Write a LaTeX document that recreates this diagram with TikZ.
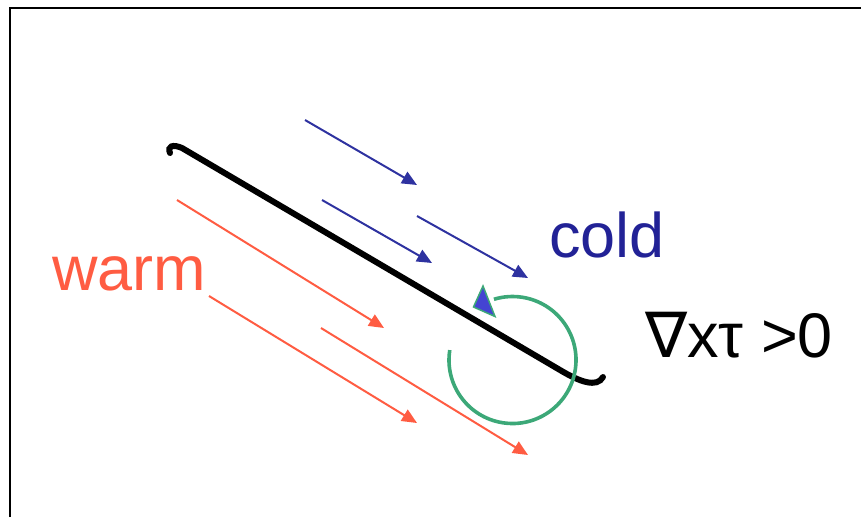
\documentclass[tikz,border=0pt]{standalone}
\usepackage{fontspec}
\setmainfont{Liberation Sans}
\newfontfamily\nablafont{DejaVu Sans}
\usetikzlibrary{arrows.meta}
\definecolor{coldblue}{RGB}{46,50,160}
\definecolor{coldtext}{RGB}{34,34,150}
\definecolor{warmred}{RGB}{255,92,66}
\definecolor{curlgreen}{RGB}{60,168,120}
\definecolor{headblue}{RGB}{68,68,210}
\tikzset{
  coldarrow/.style={draw=coldblue, line width=2pt, -{Triangle[length=15pt,width=13pt]}},
  warmarrow/.style={draw=warmred, line width=2pt, -{Triangle[length=15pt,width=13pt]}},
  frontline/.style={draw=black, line width=6pt, line cap=round},
  curl/.style={draw=curlgreen, line width=3.6pt},
  lbl/.style={anchor=base west, inner sep=0pt, font=\fontsize{63}{63}\selectfont}
}
\begin{document}
\begin{tikzpicture}[x=1pt,y=-1pt]
\useasboundingbox (0,0) rectangle (861,517);
\draw[line width=2pt] (10,517) -- (10,8) -- (861,8);
% cold arrows
\coordinate (c1s) at (305,120); \coordinate (c1e) at (417,185);
\coordinate (c2s) at (322,200); \coordinate (c2e) at (432,263);
\coordinate (c3s) at (417,216); \coordinate (c3e) at (528,278);
\draw[coldarrow] (c1s) -- (c1e);
\draw[coldarrow] (c2s) -- (c2e);
\draw[coldarrow] (c3s) -- (c3e);
% warm arrows
\coordinate (w1s) at (177,200); \coordinate (w1e) at (384,328);
\coordinate (w2s) at (209,296); \coordinate (w2e) at (417,423);
\coordinate (w3s) at (321,328); \coordinate (w3e) at (528,455);
\draw[warmarrow] (w1s) -- (w1e);
\draw[warmarrow] (w2s) -- (w2e);
\draw[warmarrow] (w3s) -- (w3e);
% front
\coordinate (f0) at (170,153);
\coordinate (f1) at (182,148);
\coordinate (f2) at (560,370);
\coordinate (f3) at (603,377);
\draw[frontline] (f0) .. controls (167,146) and (173,144) .. (f1) -- (f2) .. controls (580,382) and (597,388) .. (f3);
% curl
\coordinate (cc) at (512.5,360);
\draw[curl] (cc) ++(-171:63.5) arc[start angle=-171, end angle=-467, radius=63.5];
\coordinate (t1) at (483,286); \coordinate (t2) at (473.5,307); \coordinate (t3) at (495,316.5);
\draw[draw=curlgreen, fill=headblue, line width=1.5pt, line join=miter] (t1) -- (t2) -- (t3) -- cycle;
% labels
\node[lbl, text=warmred] (warm) at (52,290) {warm};
\node[lbl, text=coldtext] (cold) at (549,257) {cold};
\node[lbl, text=black] (curl) at (645,357) {{\nablafont ∇}xτ >0};
\end{tikzpicture}
\end{document}
